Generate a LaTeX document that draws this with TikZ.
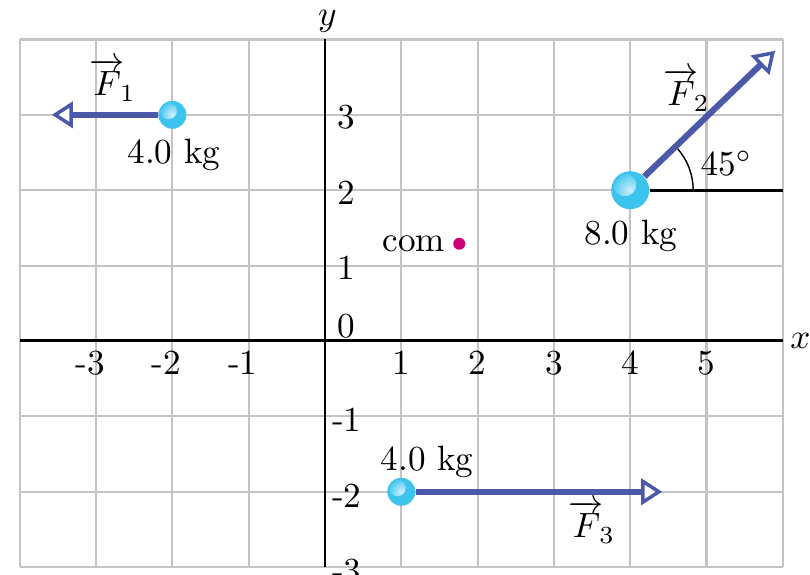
\documentclass[tikz,border=0pt]{standalone}
\usepackage{amsmath}
\usepackage{xcolor}
\usepackage{tikz}
\usetikzlibrary{arrows.meta,calc,angles,quotes}
\definecolor{forceblue}{HTML}{4A5AA8}
\definecolor{ballcyan}{HTML}{3CC4EE}
\definecolor{comred}{HTML}{CC0078}
\definecolor{gridgray}{HTML}{C4C4C8}

\begin{document}
\begin{tikzpicture}[x=0.763cm,y=0.754cm,font=\fontsize{10}{12}\selectfont,
  ball/.style={circle,inner sep=0pt,minimum size=#1,fill=ballcyan,
    path picture={\shade[inner color=white!75!ballcyan,outer color=ballcyan]
      ([shift={(-0.14*#1,0.14*#1)}]path picture bounding box.center) circle (0.3*#1);}},
  force/.style={forceblue,line width=1.75pt,
    -{Triangle[open,fill=white,length=6pt,width=7.5pt,line width=1pt]}},
  axis/.style={line width=0.85pt}]
  \useasboundingbox (-4.26,-3.103) rectangle (6.357,4.523);
  \draw[gridgray,line width=0.6pt] (-4,-3) grid[step={(1,1)}] (6,4);
  \draw[axis] (-4,0) -- (6,0);
  \draw[axis] (0,-3) -- (0,4);
  \node (xlab) at (6.23,0) {$x$};
  \node (ylab) at (0.03,4.24) {$y$};
  % tick labels
  \foreach \i in {-3,-2,-1} \node (xt\i) at (\i,-0.29) {\llap{-}\the\numexpr-\i\relax};
  \foreach \i in {1,...,5} \node (xt\i) at (\i,-0.29) {\i};
  \foreach \i in {1,2,3} \node[anchor=west] (yt\i) at (0,\i-0.03) {\i};
  \node[anchor=west] (yt0) at (0,0.19) {0};
  \foreach \i in {-3,-2,-1} \node[anchor=west] (yt\i) at (-0.07,\i-0.05) {-\the\numexpr-\i\relax};
  % masses
  \node[ball=0.28cm] (mone) at (-2,3) {};
  \node[ball=0.38cm] (mtwo) at (4,2) {};
  \node[ball=0.28cm] (mthree) at (1,-2) {};
  \node (monelab) at (-1.98,2.47) {4.0 kg};
  \node (mtwolab) at (4.01,1.39) {8.0 kg};
  \node (mthreelab) at (1.34,-1.60) {4.0 kg};
  % forces
  \coordinate (fonetip) at (-3.58,3);
  \coordinate (ftwotip) at (5.9,3.85);
  \coordinate (fthreetip) at (4.42,-2);
  \coordinate (refend) at (6,2);
  \draw[axis] (mtwo) -- (refend);
  \pic[draw,line width=0.4pt,angle radius=0.63cm] {angle=refend--mtwo--ftwotip};
  \node (anglab) at (5.26,2.36) {$45^\circ$};
  \draw[force] (mone) -- (fonetip);
  \draw[force] (mtwo) -- (ftwotip);
  \draw[force] (mthree) -- (fthreetip);
  \node (fonelab) at (-2.78,3.46) {$\overrightarrow{F}_{\!1}$};
  \node (ftwolab) at (4.74,3.33) {$\overrightarrow{F}_{\!2}$};
  \node (fthreelab) at (3.5,-2.4) {$\overrightarrow{F}_{\!3}$};
  % center of mass
  \node[circle,fill=comred,inner sep=0pt,minimum size=0.12cm] (com) at (1.76,1.29) {};
  \node[left,inner sep=2pt] (comlab) at (com.west) {com};
\end{tikzpicture}
\end{document}
